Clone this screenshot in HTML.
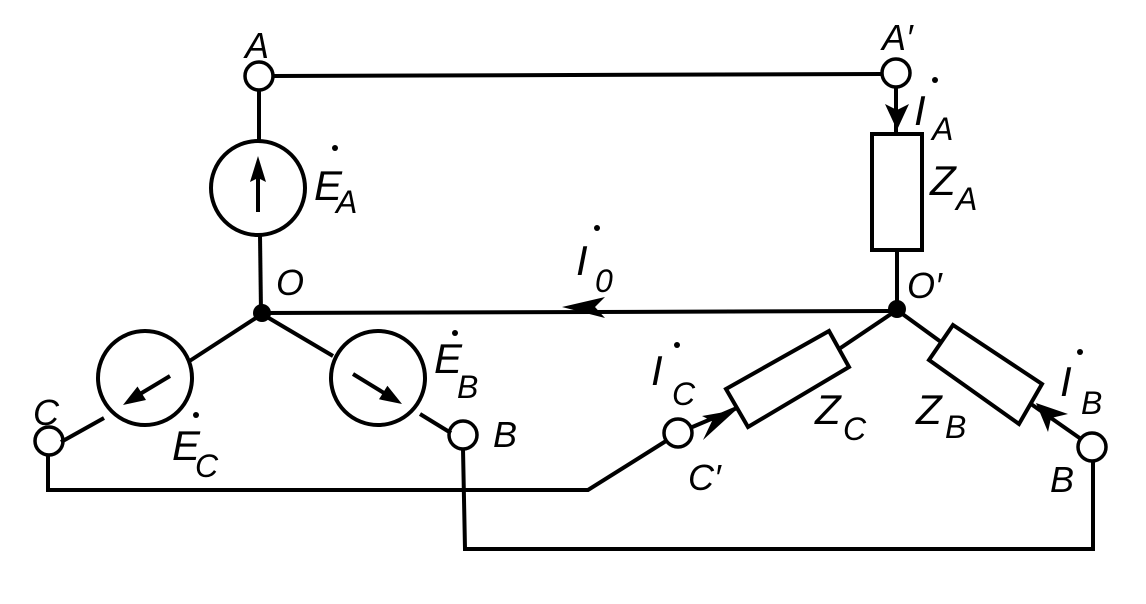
<!DOCTYPE html>
<html><head><meta charset="utf-8"><style>
html,body{margin:0;padding:0;background:#fff;}
svg{display:block;}
text{font-family:"Liberation Sans",sans-serif;font-style:italic;fill:#000;}
</style></head><body>
<svg width="1146" height="604" viewBox="0 0 1146 604" xmlns="http://www.w3.org/2000/svg">
<g stroke="#000" stroke-width="4" fill="none" stroke-linejoin="miter">
<line x1="274" y1="76" x2="881" y2="74"/>
<line x1="259" y1="90" x2="259" y2="141"/>
<circle cx="258" cy="188" r="47"/>
<line x1="260" y1="235" x2="261" y2="312"/>
<line x1="262" y1="313" x2="893" y2="311"/>
<line x1="262" y1="314" x2="188" y2="362"/>
<circle cx="145" cy="378" r="47"/>
<line x1="104" y1="418" x2="61" y2="442"/>
<line x1="262" y1="314" x2="333" y2="356"/>
<circle cx="378" cy="378" r="47"/>
<line x1="420" y1="414" x2="451" y2="433"/>
<circle cx="259" cy="76" r="14" stroke-width="3.5"/>
<circle cx="49" cy="441" r="14" stroke-width="3.5"/>
<circle cx="463" cy="435" r="14" stroke-width="3.5"/>
<circle cx="896" cy="73" r="14" stroke-width="3.5"/>
<circle cx="678" cy="433" r="14" stroke-width="3.5"/>
<circle cx="1092" cy="447" r="14" stroke-width="3.5"/>
<polyline points="48,455 48,490 588,490 666,441"/>
<polyline points="463,449 465,549 1093,549 1093,461"/>
<line x1="896" y1="87" x2="896" y2="134"/>
<rect x="872" y="134" width="50" height="116"/>
<line x1="897" y1="250" x2="897" y2="310"/>
<line x1="897" y1="310" x2="839" y2="349"/>
<polygon points="726,389 829,331 849,367 748,427"/>
<line x1="690" y1="428" x2="737" y2="408"/>
<line x1="897" y1="310" x2="941" y2="342"/>
<polygon points="953,325 1042,384 1019,424 929,360"/>
<line x1="1031" y1="404" x2="1081" y2="439"/>
<line x1="258" y1="178" x2="258" y2="212"/>
<line x1="170" y1="376" x2="140" y2="394"/>
<line x1="353" y1="374" x2="384" y2="393"/>
</g>
<circle cx="262" cy="313" r="9" fill="#000"/>
<circle cx="897" cy="309" r="9" fill="#000"/>
<g fill="#000">
<polygon points="258,156 250,182 258,178 266,182"/>
<polygon points="123,405 146,400 137.5,386.5"/>
<polygon points="402,404 379,399.3 387.4,385.7"/>
<polygon points="897,130 885,104 897,110 909,104"/>
<polygon points="562,307 605,297 595,307 605,318"/>
<polygon points="736,410 702,416 712,421 703,440"/>
<polygon points="1036,403 1048,432 1051,418 1068,414"/>
</g>
<g font-size="36">
<text x="245" y="58">A</text>
<text x="882" y="50">A′</text>
<text x="276" y="295">O</text>
<text x="907" y="298">O′</text>
<text x="33" y="425">C</text>
<text x="493" y="447">B</text>
<text x="688" y="490">C′</text>
<text x="1050" y="492">B</text>
</g>
<g font-size="42">
<text x="314" y="200">E</text><text x="336" y="213" font-size="32">A</text>
<text x="434" y="373">E</text><text x="457" y="398" font-size="32">B</text>
<text x="172" y="460">E</text><text x="195" y="477" font-size="32">C</text>
<text x="914" y="125">I</text><text x="932" y="140" font-size="32">A</text>
<text x="930" y="195">Z</text><text x="956" y="210" font-size="32">A</text>
<text x="576" y="275">I</text><text x="595" y="292" font-size="32">0</text>
<text x="651" y="385">I</text><text x="672" y="405" font-size="32">C</text>
<text x="815" y="424">Z</text><text x="843" y="440" font-size="32">C</text>
<text x="916" y="424">Z</text><text x="945" y="438" font-size="32">B</text>
<text x="1060" y="396">I</text><text x="1081" y="414" font-size="32">B</text>
</g>
<g fill="#000">
<circle cx="335" cy="148" r="3"/>
<circle cx="455" cy="333" r="3"/>
<circle cx="196" cy="415" r="3"/>
<circle cx="935" cy="80" r="3"/>
<circle cx="597" cy="228" r="3"/>
<circle cx="677" cy="345" r="3"/>
<circle cx="1080" cy="352" r="3"/>
</g>
</svg>
</body></html>
